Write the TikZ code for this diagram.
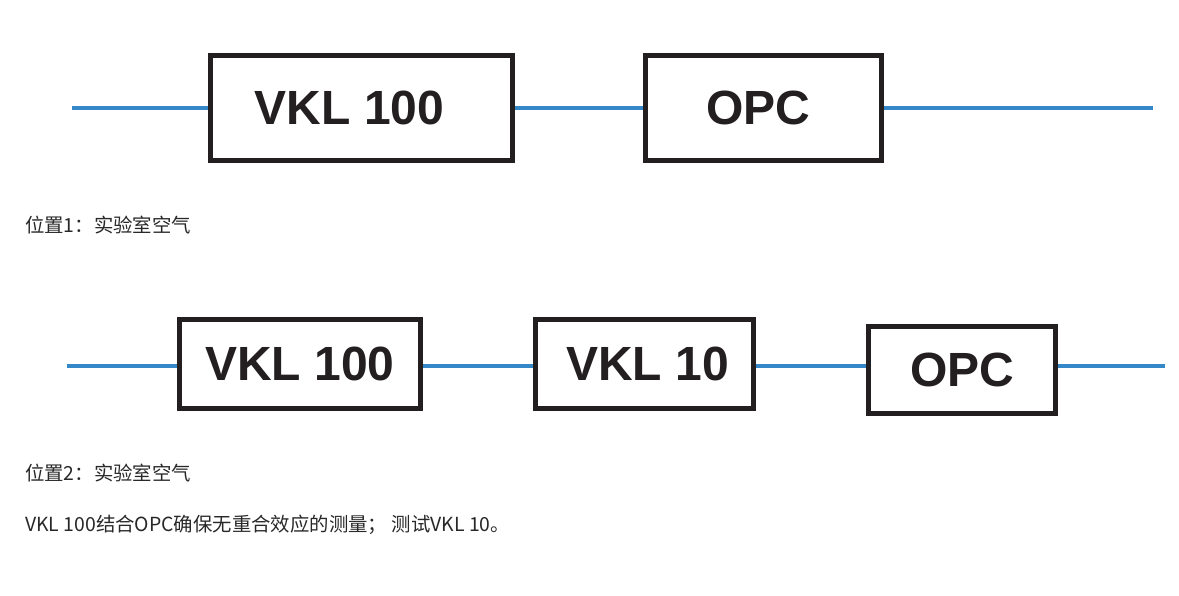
\documentclass[tikz,border=0pt]{standalone}
\usepackage{fontspec}
\usepackage{xcolor}
\usepackage{tikz}
\usetikzlibrary{positioning,calc}
\setmainfont{Liberation Sans}
\newfontfamily\cjk{Noto Sans CJK SC}
\definecolor{pipecolor}{RGB}{52,136,200}
\definecolor{boxline}{RGB}{35,31,32}
\definecolor{captioncolor}{RGB}{40,40,40}
\tikzset{
  instr box/.style={
    rectangle,
    draw=boxline,
    fill=white,
    line width=5pt,
    inner sep=0pt,
    font=\fontsize{48}{50}\selectfont\bfseries,
    text=boxline
  },
  pipe/.style={
    draw=pipecolor,
    line width=4pt
  },
  caption/.style={
    anchor=west,
    inner sep=0pt,
    font=\cjk\fontsize{19.4}{21}\selectfont,
    text=captioncolor
  }
}

\begin{document}
\begin{tikzpicture}[x=1pt,y=-1pt]
  \useasboundingbox (0,0) rectangle (1179,596);

  % Position 1
  \node[instr box, minimum width=302pt, minimum height=105pt] (vkla) at (361.5,108) {\hspace*{-24pt}VKL 100};
  \node[instr box, minimum width=236pt, minimum height=105pt] (opca) at (763.5,108) {\hspace*{-10pt}OPC};
  \coordinate (ina) at (72,108);
  \coordinate (outa) at (1153,108);

  \draw[pipe] (ina) -- (vkla);
  \draw[pipe] (vkla) -- (opca);
  \draw[pipe] (opca) -- (outa);

  \node[caption] (capa) at (25,225) {位置1：实验室空气};

  % Position 2
  \node[instr box, minimum width=241pt, minimum height=89pt] (vklb) at (300,364) {VKL 100};
  \node[instr box, minimum width=218pt, minimum height=89pt] (vklc) at (644.5,364) {VKL 10\hspace*{-6pt}};
  \node[instr box, minimum width=187pt, minimum height=87pt] (opcb) at (962,370) {OPC};
  \coordinate (inb) at (67,366);
  \coordinate (outb) at (1165,366);

  \draw[pipe] (inb) -- (inb -| vklb.west);
  \draw[pipe] (vklb.east |- inb) -- (vklc.west |- inb);
  \draw[pipe] (vklc.east |- inb) -- (opcb.west |- inb);
  \draw[pipe] (opcb.east |- inb) -- (outb);

  \node[caption] (capb) at (25,473) {位置2：实验室空气};
  \node[caption] (note) at (25,525) {VKL 100结合OPC确保无重合效应的测量； 测试VKL 10。};
\end{tikzpicture}
\end{document}
